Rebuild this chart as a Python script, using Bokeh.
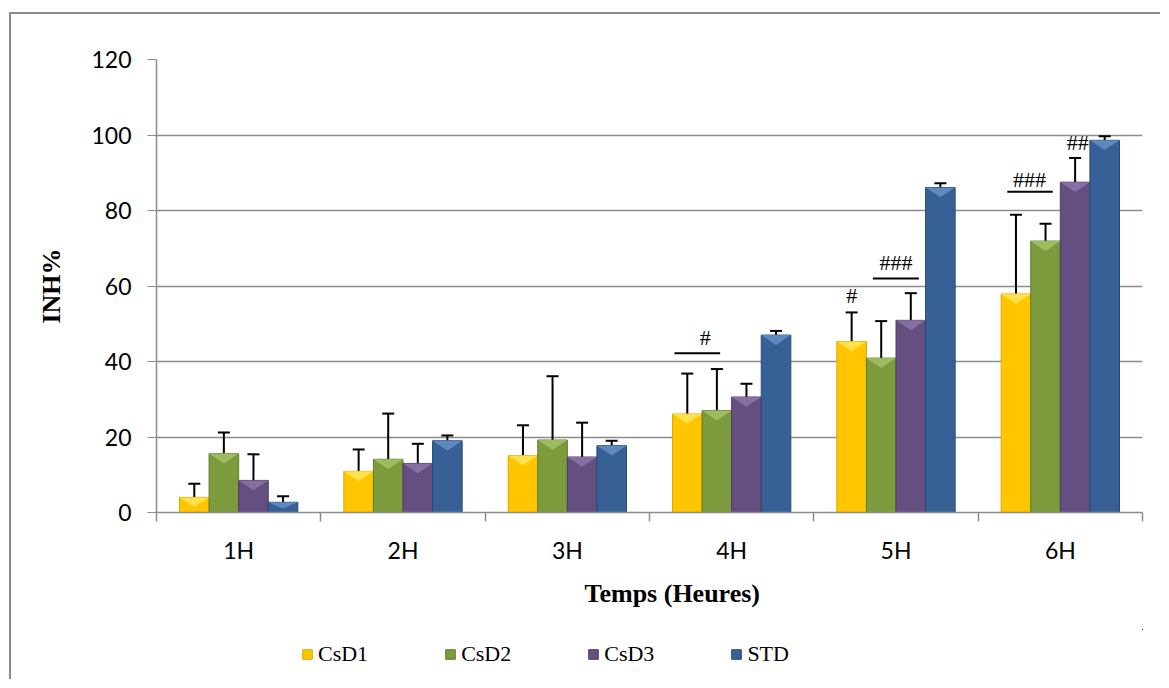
import numpy as np
from bokeh.plotting import figure
from bokeh.layouts import column
from bokeh.models import (ColumnDataSource, Whisker, TeeHead, FixedTicker, Legend,
                          LegendItem, Title, Range1d)
from bokeh.core.properties import value
from bokeh.embed import file_html
from bokeh.resources import INLINE

# ---------------- data ----------------
hours = ["1H", "2H", "3H", "4H", "5H", "6H"]
series = ["CsD1", "CsD2", "CsD3", "STD"]

csd1 = [4.0, 10.9, 15.1, 26.1, 45.3, 57.9]
csd1_err = [3.6, 5.8, 8.0, 10.7, 7.7, 21.0]
csd2 = [15.6, 14.1, 19.2, 27.0, 40.9, 71.9]
csd2_err = [5.6, 12.1, 16.9, 11.0, 9.8, 4.6]
csd3 = [8.5, 13.0, 14.7, 30.6, 50.9, 87.5]
csd3_err = [6.9, 5.2, 9.1, 3.5, 7.2, 6.4]
std = [2.7, 19.0, 17.7, 47.0, 86.1, 98.6]
std_err = [1.6, 1.4, 1.3, 1.1, 1.1, 1.1]

y_ticks = [0, 20, 40, 60, 80, 100, 120]

# significance marks (label, hour)
sig_text = ["#", "#", "###", "###", "##"]
sig_hour = ["4H", "5H", "5H", "6H", "6H"]
sig_bar_hour = ["4H", "5H", "6H"]

# ---------------- layout / style ----------------
values = [csd1, csd2, csd3, std]
errors = [csd1_err, csd2_err, csd3_err, std_err]
colors = ["#FFC600", "#7B9B3D", "#654E80", "#376196"]
highlights = ["#FFE45A", "#A3C266", "#8C76AA", "#6490C8"]
edges = ["#E0A800", "#5F7A2C", "#4E3B66", "#27497A"]
bar_w = 0.18
offsets = [-0.27, -0.09, 0.09, 0.27]
chevron_depth = 2.6

centers = np.arange(len(hours)) + 1.0
boundaries = np.arange(len(hours) + 1) + 0.5

p = figure(width=1149, height=615, output_backend="svg", toolbar_location=None,
           x_range=Range1d(0.5, len(hours) + 0.5), y_range=Range1d(0, 120),
           min_border_left=145, min_border_right=18, min_border_top=45,
           min_border_bottom=117)
p.outline_line_color = None
p.background_fill_color = "white"
p.border_fill_color = "white"

sources = []
for vals, errs, col, hil, edge, off in zip(values, errors, colors, highlights, edges, offsets):
    x = centers + off
    top = np.array(vals, dtype=float)
    src = ColumnDataSource(dict(x=x, top=top, upper=top + np.array(errs)))
    sources.append(src)
    p.vbar(x="x", top="top", width=bar_w, source=src, fill_color=col,
           line_color=edge, line_width=1)
    # bevel highlight on the top of each bar
    d = np.minimum(chevron_depth, top * 0.6)
    xs = [[xi - bar_w / 2, xi + bar_w / 2, xi] for xi in x]
    ys = [[ti, ti, ti - di] for ti, di in zip(top, d)]
    p.patches(xs=xs, ys=ys, fill_color=hil, fill_alpha=0.85, line_color=None)
    w = Whisker(source=src, base="x", lower="top", upper="upper",
                line_color="black", line_width=2, lower_head=None,
                upper_head=TeeHead(size=12, line_color="black", line_width=2))
    p.add_layout(w)

# significance brackets and marks
hidx = {h: i for i, h in enumerate(hours)}
br_from = [-0.348, -0.141, -0.323]
br_to = [-0.07, 0.139, -0.046]
br_y = [42.2, 62.0, 85.0]
bx = np.array([centers[hidx[h]] for h in sig_bar_hour])
p.segment(x0=bx + np.array(br_from), x1=bx + np.array(br_to), y0=br_y, y1=br_y,
          line_color="black", line_width=2)

sig_off = [-0.161, -0.27, 0.0, -0.187, 0.106]
sig_y = [46.3, 57.5, 66.3, 88.2, 97.9]
sx = np.array([centers[hidx[h]] for h in sig_hour]) + np.array(sig_off)
p.text(x=sx, y=sig_y, text=sig_text, text_font=value("Liberation Serif"),
       text_font_size="22px", text_align="center", text_baseline="middle",
       text_color="black")

# axes
grid_col = "#8c8c8c"
p.ygrid.ticker = FixedTicker(ticks=y_ticks)
p.ygrid.grid_line_color = grid_col
p.ygrid.grid_line_width = 1.5
p.xgrid.grid_line_color = None

p.yaxis.ticker = FixedTicker(ticks=y_ticks)
p.yaxis.axis_line_color = grid_col
p.yaxis.axis_line_width = 1.5
p.yaxis.major_tick_line_color = grid_col
p.yaxis.major_tick_out = 9
p.yaxis.major_tick_in = 0
p.yaxis.minor_tick_line_color = None
p.yaxis.major_label_text_font = "Lato"
p.yaxis.major_label_text_font_size = "23px"
p.yaxis.major_label_text_color = "black"
p.yaxis.major_label_standoff = 16
p.yaxis.axis_label = "INH%"
p.yaxis.axis_label_text_font = "Liberation Serif"
p.yaxis.axis_label_text_font_style = "bold"
p.yaxis.axis_label_text_font_size = "26px"
p.yaxis.axis_label_text_color = "black"
p.yaxis.axis_label_standoff = 22

p.xaxis.ticker = FixedTicker(ticks=list(centers), minor_ticks=list(boundaries))
p.xaxis.major_label_overrides = {int(c): h for c, h in zip(centers, hours)}
p.xaxis.axis_line_color = grid_col
p.xaxis.axis_line_width = 1.5
p.xaxis.major_tick_line_color = None
p.xaxis.major_tick_out = 0
p.xaxis.major_tick_in = 0
p.xaxis.minor_tick_line_color = grid_col
p.xaxis.minor_tick_line_width = 1.5
p.xaxis.minor_tick_out = 9
p.xaxis.minor_tick_in = 0
p.xaxis.major_label_text_font = "Lato"
p.xaxis.major_label_text_font_size = "23px"
p.xaxis.major_label_text_color = "black"
p.xaxis.major_label_standoff = 14

xt = Title(text="Temps (Heures)", align="left", offset=428,
           text_font="Liberation Serif", text_font_style="bold",
           text_font_size="26px", text_color="black", standoff=20)
p.add_layout(xt, "below")

# legend strip (separate figure so it sits below the titles); its ranges keep
# the reused bars out of view so only the legend shows
lg = figure(width=1149, height=50, output_backend="svg", toolbar_location=None,
            x_axis_location=None, y_axis_location=None,
            x_range=Range1d(-20, -10), y_range=Range1d(-20, -10),
            min_border_left=0, min_border_right=0, min_border_top=0,
            min_border_bottom=0)
lg.outline_line_color = None
lg.xgrid.grid_line_color = None
lg.ygrid.grid_line_color = None
lg.border_fill_color = "white"
lg_renderers = []
for src, col, edge in zip(sources, colors, edges):
    lg_renderers.append(lg.vbar(x="x", top="top", width=bar_w, source=src,
                                fill_color=col, line_color=edge, line_width=1))

legend = Legend(items=[LegendItem(label=s, renderers=[r]) for s, r in zip(series, lg_renderers)],
                orientation="horizontal", location=(145, 12),
                label_text_font="Liberation Serif", label_text_font_size="22px",
                label_text_color="black", glyph_width=12, glyph_height=12,
                label_standoff=5, spacing=76, padding=0, margin=0,
                border_line_color=None, background_fill_alpha=0)
lg.add_layout(legend)

layout = column(p, lg, spacing=0)
layout.styles = {"border-left": "2px solid #8c8c8c", "border-top": "2px solid #8c8c8c",
                 "margin-left": "9px", "margin-top": "12px"}

open("out.html", "w").write(file_html(layout, INLINE))
